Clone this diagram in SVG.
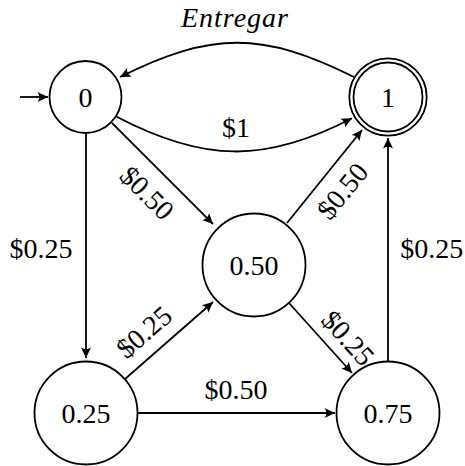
<svg xmlns="http://www.w3.org/2000/svg" width="465" height="466" viewBox="0 0 465 466">
<defs>
<marker id="arr" viewBox="-11 -6 12 12" markerWidth="12" markerHeight="12" refX="0" refY="0" orient="auto" markerUnits="userSpaceOnUse">
<path d="M0,0 L-10.5,-5 Q-7,0 -10.5,5 Z" fill="#000"/>
</marker>
<style>
.n{fill:#fff;stroke:#000;stroke-width:1.8}
.e{fill:none;stroke:#000;stroke-width:1.8;marker-end:url(#arr)}
text{font-family:"Liberation Serif","Times New Roman",serif;font-size:28px;fill:#000;text-anchor:middle}
</style>
</defs>
<rect width="465" height="466" fill="#fff"/>
<g id="connectors">
<path class="e" d="M20,97 L48,97"/>
<path class="e" d="M354,77 C262.6,31.3 211.4,31.3 120,77"/>
<path class="e" d="M116.7,116.7 C203.3,162 265,163.6 352,118.3"/>
<path class="e" d="M112,123 L213,224"/>
<path class="e" d="M86,133 L86,358"/>
<path class="e" d="M125,379 L213,302"/>
<path class="e" d="M287,223 L362,130"/>
<path class="e" d="M289,303 L352,373"/>
<path class="e" d="M137.5,413 L335,413"/>
<path class="e" d="M388,362 L388,138"/>
<text x="235" y="27" font-style="italic" letter-spacing="1">Entregar</text>
<text x="236" y="136.7">$1</text>
<text transform="translate(147,193) rotate(45)" y="9.5">$0.50</text>
<text x="41" y="257.7">$0.25</text>
<text transform="translate(144,332) rotate(-41)" y="9.5">$0.25</text>
<text transform="translate(342.5,191) rotate(-51)" y="9.5">$0.50</text>
<text transform="translate(348,338) rotate(48)" y="9.5">$0.25</text>
<text x="236" y="399.3">$0.50</text>
<text x="431.7" y="257.7">$0.25</text>
</g>
<g id="node-0">
<circle class="n" cx="85.5" cy="97" r="36"/>
<text x="85.5" y="106.5">0</text>
</g>
<g id="node-1">
<circle class="n" cx="388" cy="97" r="38.7"/>
<circle class="n" cx="388" cy="97" r="34.5"/>
<text x="388" y="106.5">1</text>
</g>
<g id="node-050">
<circle class="n" cx="254" cy="265" r="51.5"/>
<text x="254" y="274.5">0.50</text>
</g>
<g id="node-025">
<circle class="n" cx="86" cy="413" r="51.5"/>
<text x="86" y="422.5">0.25</text>
</g>
<g id="node-075">
<circle class="n" cx="388" cy="413" r="51.5"/>
<text x="388" y="422.5">0.75</text>
</g>
</svg>
